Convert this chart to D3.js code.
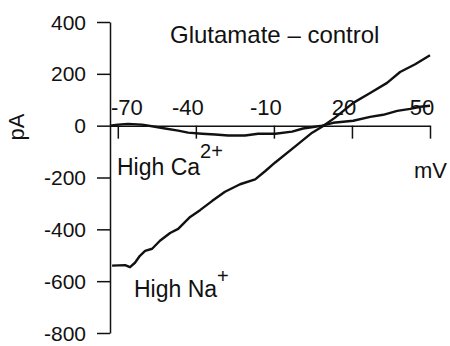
<!DOCTYPE html>
<html>
<head>
<meta charset="utf-8">
<script src="https://cdn.jsdelivr.net/npm/d3@7"></script>
<style>
  body { margin: 0; background: #fff; }
  text { font-family: "Liberation Sans", Arial, sans-serif; fill: #111; }
</style>
</head>
<body>
<div id="chart"></div>
<script>
// traced values, mV / pA
const naVolt = [-72.2, -67.2, -65.3, -63.4, -61.5, -59.5, -56.8, -53.8, -49.9, -46.8, -42.2, -38.4, -33.8, -28.8, -23, -17.2, -13.4, -9.5, -1.8, 4.7, 8.5, 13.5, 20.5, 27, 33.5, 38.5, 44.3, 50];
const naCurr = [-540, -538, -546, -529, -502, -483, -475, -444, -414, -398, -352, -326, -291, -255, -226, -207, -176, -142, -80, -27, -4, 31, 88, 126, 165, 207, 237, 272];

const caVolt = [-73, -69.9, -66.1, -60.7, -55.7, -51.8, -46.8, -43, -37.6, -32.6, -27.6, -21.1, -16.1, -9.5, -3, 1.2, 5.8, 8.5, 12.8, 20.5, 27, 32, 37.4, 42.4, 46.2, 50];
const caCurr = [0, 4, 7, 4, -4, -11, -19, -27, -31, -34, -38, -38, -31, -31, -23, -11, -4, 0, 11, 19, 34, 42, 57, 65, 73, 77];

const xTicks = [-70, -40, -10, 20, 50];
const yTicks = [400, 200, 0, -200, -400, -600, -800];

const width = 450, height = 346;
const fmt = d => String(d); // plain hyphen like the original

const x = d3.scaleLinear().domain([-73, 50]).range([110, 430]);
const y = d3.scaleLinear().domain([-800, 400]).range([333, 22]);

const svg = d3.select("#chart").append("svg")
  .attr("width", width).attr("height", height);

// y axis
const yAxis = svg.append("g")
  .attr("transform", `translate(${x(-73)},0)`)
  .call(d3.axisLeft(y).tickValues(yTicks).tickFormat(fmt).tickSize(13).tickPadding(11).tickSizeOuter(0));
yAxis.select(".domain").attr("stroke", "#111").attr("stroke-width", 1.5);
yAxis.selectAll(".tick line").attr("stroke", "#111").attr("stroke-width", 1.5);
yAxis.selectAll(".tick text").attr("font-size", 21).attr("dy", "0.34em").attr("fill", "#111")
  .attr("font-family", "Liberation Sans, Arial, sans-serif");

// x axis sits on 0 pA, labels above
const xAxis = svg.append("g")
  .attr("transform", `translate(0,${y(0)})`)
  .call(d3.axisBottom(x).tickValues(xTicks).tickSize(13).tickSizeOuter(0).tickFormat(""));
xAxis.select(".domain").attr("stroke", "#111").attr("stroke-width", 1.5);
xAxis.selectAll(".tick line").attr("stroke", "#111").attr("stroke-width", 1.5);

const xl = svg.append("g").selectAll("text").data(xTicks).join("text")
  .attr("font-size", 22)
  .attr("text-anchor", "middle")
  .attr("y", y(0) - 11)
  .text(fmt);
xl.attr("x", function(d) {
  const w = this.getComputedTextLength();
  return Math.max(x(d) - 8, x(-73) + 1 + w / 2);
});

const line = d3.line()
  .x((d, i) => x(d[0]))
  .y((d, i) => y(d[1]));

svg.append("path")
  .attr("fill", "none").attr("stroke", "#111").attr("stroke-width", 2.4)
  .attr("stroke-linejoin", "round")
  .attr("d", line(naVolt.map((v, i) => [v, naCurr[i]])));
svg.append("path")
  .attr("fill", "none").attr("stroke", "#111").attr("stroke-width", 2.4)
  .attr("stroke-linejoin", "round")
  .attr("d", line(caVolt.map((v, i) => [v, caCurr[i]])));

// labels
svg.append("text").attr("x", 170).attr("y", 43).attr("font-size", 24)
  .text("Glutamate – control");

svg.append("text").attr("transform", "translate(24,127) rotate(-90)")
  .attr("text-anchor", "middle").attr("font-size", 22).text("pA");

svg.append("text").attr("x", 414).attr("y", 178).attr("font-size", 22).text("mV");

const ca = svg.append("text").attr("x", 117).attr("y", 175).attr("font-size", 23);
ca.append("tspan").text("High Ca");
ca.append("tspan").attr("dy", -17).attr("font-size", 20).text("2+");

const na = svg.append("text").attr("x", 134).attr("y", 297).attr("font-size", 23);
na.append("tspan").text("High Na");
na.append("tspan").attr("dy", -14).attr("font-size", 20).text("+");
</script>
</body>
</html>
